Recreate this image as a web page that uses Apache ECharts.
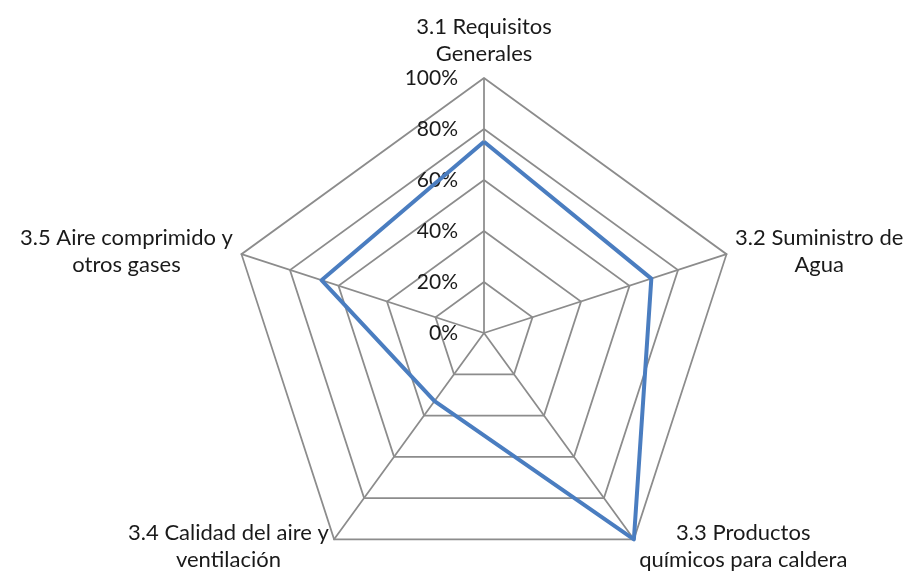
<!DOCTYPE html>
<html>
<head>
<meta charset="utf-8">
<script src="https://cdn.jsdelivr.net/npm/echarts@6/dist/echarts.min.js"></script>
<style>
html,body{margin:0;padding:0;background:#fff;}
#chart{width:912px;height:576px;}
</style>
</head>
<body>
<div id="chart"></div>
<script>
const categories = [
  '3.1 Requisitos\nGenerales',
  '3.2 Suministro de\nAgua',
  '3.3 Productos\nquímicos para caldera',
  '3.4 Calidad del aire y\nventilación',
  '3.5 Aire comprimido y\notros gases'
];
const values = [75, 69, 100, 33, 67];
const axisMin = 0;
const axisMax = 100;
const FONT = 'Lato';
const TEXT = '#1a1a1a';

// ECharts radar runs counter-clockwise; the reference runs clockwise,
// so keep the first category on top and reverse the rest.
const order = [0].concat(categories.map((_, i) => i).slice(1).reverse());

const chart = echarts.init(document.getElementById('chart'), null, {renderer: 'canvas'});
const indicator = order.map((idx, k) => {
  const ind = {name: categories[idx], min: axisMin, max: axisMax};
  if (k === 0) {
    ind.axisLabel = {show: true, formatter: '{value}%', fontSize: 21, fontFamily: FONT, color: TEXT, margin: 26};
  }
  return ind;
});
chart.setOption({
  animation: false,
  backgroundColor: '#ffffff',
  radar: {
    center: [484, 333],
    radius: 255,
    startAngle: 90,
    splitNumber: 5,
    shape: 'polygon',
    indicator: indicator,
    nameGap: 9,
    axisName: {
      color: TEXT,
      fontSize: 22,
      fontFamily: FONT,
      lineHeight: 27,
      formatter: function (name) {
        return name.split('\n').map(l => '{c|' + l + '}').join('\n');
      },
      rich: {
        c: {align: 'center', fontSize: 22, fontFamily: FONT, color: TEXT, lineHeight: 27}
      }
    },
    axisLine: {show: true, lineStyle: {color: '#8c8c8c', width: 1.75}},
    splitLine: {show: true, lineStyle: {color: '#8c8c8c', width: 1.75}},
    splitArea: {show: false},
    axisTick: {show: false},
    axisLabel: {show: false}
  },
  series: [{
    type: 'radar',
    symbol: 'none',
    lineStyle: {color: '#4A7DC0', width: 4},
    itemStyle: {color: '#4A7DC0'},
    data: [{value: order.map(i => values[i])}]
  }]
});
</script>
</body>
</html>
